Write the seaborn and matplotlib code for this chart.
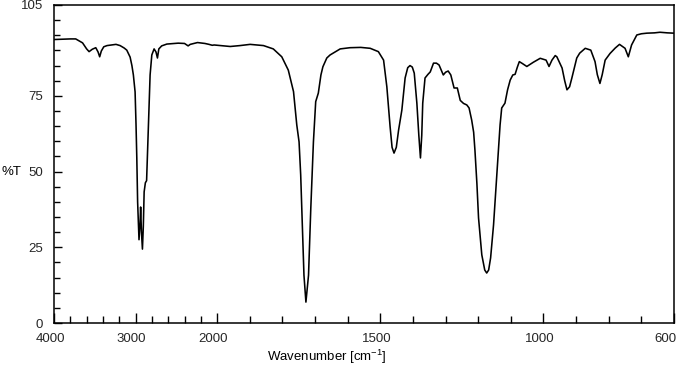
import numpy as np
import pandas as pd
import matplotlib
matplotlib.use("Agg")
import matplotlib.pyplot as plt
import matplotlib.transforms as mtransforms
from matplotlib.ticker import FixedLocator
import seaborn as sns

# --- data ---
wavenumber = [4000, 3900, 3800, 3734, 3650, 3600, 3570, 3530, 3488, 3460, 3440, 3420,
              3390, 3350, 3240, 3190, 3140, 3108, 3067, 3045, 3027, 3006, 2995, 2985,
              2975, 2958, 2945, 2938, 2928, 2916, 2905, 2895, 2880, 2865, 2855, 2843,
              2822, 2801, 2773, 2750, 2732, 2715, 2680, 2617, 2478, 2400, 2356, 2330,
              2241, 2150, 2100, 2060, 2037, 2000, 1989, 1960, 1930, 1899, 1858, 1828,
              1802, 1782, 1766, 1756, 1749, 1744, 1739, 1734, 1728, 1720, 1713, 1705,
              1698, 1690, 1682, 1676, 1664, 1654, 1623, 1593, 1560, 1531, 1506, 1490,
              1480, 1470, 1464, 1458, 1451, 1444, 1434, 1424, 1416, 1409, 1402, 1396,
              1388, 1382, 1377, 1373, 1370, 1363, 1354, 1347, 1337, 1328, 1320, 1307,
              1300, 1292, 1284, 1274, 1264, 1255, 1245, 1235, 1228, 1220, 1214, 1210,
              1204, 1199, 1189, 1180, 1174, 1168, 1162, 1153, 1143, 1133, 1128, 1118,
              1110, 1102, 1094, 1087, 1080, 1074, 1065, 1051, 1031, 1010, 992, 983,
              974, 964, 959, 943, 935, 928, 920, 913, 898, 889, 872, 855, 842, 835,
              827, 820, 811, 796, 780, 767, 750, 740, 730, 714, 700, 683, 660, 643,
              620, 600]
transmittance = [93.6, 93.7, 93.8, 93.8, 92.5, 90.5, 89.6, 90.4, 90.9, 89.5, 87.9, 89.8,
                 91.2, 91.6, 92.0, 91.6, 90.8, 90.1, 87.8, 85.0, 81.9, 76.3, 66.0, 54.5,
                 40.0, 27.5, 33.0, 38.3, 30.0, 24.4, 32.0, 43.3, 46.3, 47.0, 55.0, 65.4,
                 81.9, 88.5, 90.5, 89.5, 87.5, 90.5, 91.5, 92.1, 92.4, 92.3, 91.5, 92.0,
                 92.6, 92.3, 92.0, 91.7, 91.8, 91.7, 91.6, 91.3, 91.6, 92.0, 91.6, 90.5,
                 87.9, 83.5, 76.4, 65.4, 59.8, 48.9, 32.4, 15.8, 6.9, 15.8, 38.0, 59.8,
                 73.1, 75.9, 81.9, 84.6, 87.5, 88.5, 90.5, 90.9, 91.0, 90.7, 89.6, 86.8,
                 78.0, 64.8, 58.0, 56.1, 58.0, 63.7, 70.3, 80.9, 84.3, 85.0, 84.5, 82.5,
                 72.6, 62.0, 54.5, 62.0, 72.6, 80.9, 82.1, 82.9, 85.8, 85.8, 85.2, 81.9,
                 82.8, 83.2, 81.9, 77.6, 77.6, 73.5, 72.5, 72.0, 71.0, 67.0, 63.0, 57.0,
                 46.0, 34.7, 22.5, 17.5, 16.5, 17.5, 21.5, 32.4, 48.9, 65.4, 71.0, 72.6,
                 77.0, 80.2, 81.9, 82.1, 84.5, 86.3, 85.7, 84.7, 86.1, 87.4, 86.8, 84.7,
                 86.8, 88.3, 87.9, 84.2, 80.0, 77.0, 78.0, 80.9, 87.5, 89.1, 90.7, 90.1,
                 86.3, 82.0, 79.1, 82.0, 86.8, 89.0, 90.8, 92.0, 90.7, 87.9, 91.8, 95.1,
                 95.5, 95.7, 95.8, 96.0, 95.8, 95.7]

x_tick_values = [4000, 3000, 2000, 1500, 1000, 600]
x_tick_labels = ["4000", "3000", "2000", "1500", "1000", "600"]
x_minor_values = [3800, 3600, 3400, 3200, 2800, 2600, 2400, 2200,
                  1900, 1800, 1700, 1600, 1400, 1300, 1200, 1100, 900, 800, 700]
y_tick_values = [0, 25, 50, 75, 105]
y_tick_labels = ["0", "25", "50", "75", "105"]
y_minor_values = [5, 10, 15, 20, 30, 35, 40, 45, 55, 60, 65, 70, 80, 85, 90, 95, 100]

df = pd.DataFrame({"wavenumber": wavenumber, "T": transmittance})

sns.set_theme(style="white")
plt.rcParams["font.family"] = ["Liberation Sans", "DejaVu Sans"]
plt.rcParams["mathtext.fontset"] = "custom"
plt.rcParams["mathtext.rm"] = "Liberation Sans"
plt.rcParams["mathtext.it"] = "Liberation Sans:italic"

FS = 9.5

fig = plt.figure(figsize=(6.83, 3.75), dpi=100)
ax = fig.add_axes([54 / 683, 1 - 323 / 375, 620 / 683, 318 / 375])

sns.lineplot(data=df, x="wavenumber", y="T", color="black", linewidth=1.15,
             estimator=None, sort=False, ax=ax)


def fwd(x):
    x = np.asarray(x, dtype=float)
    return np.where(x > 2000, 2000 + (x - 2000) / 4.0, x)


def inv(y):
    y = np.asarray(y, dtype=float)
    return np.where(y > 2000, 2000 + (y - 2000) * 4.0, y)


ax.set_xscale("function", functions=(fwd, inv))
ax.set_xlim(4000, 600)
ax.set_ylim(0, 105)

ax.xaxis.set_major_locator(FixedLocator(x_tick_values))
ax.set_xticklabels(x_tick_labels)
ax.xaxis.set_minor_locator(FixedLocator(x_minor_values))
ax.yaxis.set_major_locator(FixedLocator(y_tick_values))
ax.set_yticklabels(y_tick_labels)
ax.yaxis.set_minor_locator(FixedLocator(y_minor_values))

ax.tick_params(axis="x", which="major", direction="in", length=7, width=1,
               color="black", labelsize=FS, pad=7, bottom=True, top=False)
ax.tick_params(axis="x", which="minor", direction="in", length=4.8, width=1,
               color="black", bottom=True, top=False)
ax.tick_params(axis="y", which="major", direction="in", length=5.5, width=1,
               color="black", labelsize=FS, pad=8, left=True, right=False)
ax.tick_params(axis="y", which="minor", direction="in", length=4, width=1,
               color="black", left=True, right=False)

# small horizontal offsets of x tick labels as in the reference
for lab in ax.get_xticklabels():
    dx = -4 / 100
    if lab.get_text() == "600":
        dx = -9 / 100
    lab.set_transform(lab.get_transform() +
                      mtransforms.ScaledTranslation(dx, 0, fig.dpi_scale_trans))

for s in ax.spines.values():
    s.set_visible(True)
    s.set_color("black")
    s.set_linewidth(1.1)

ax.set_xlabel("Wavenumber [cm$^{-1}$]", fontsize=FS, color="black",
              ha="right", va="center")
ax.xaxis.set_label_coords((387 - 54) / 620, -(357 - 323) / 318)
ax.set_ylabel("%T", fontsize=FS, color="black", rotation=0, ha="left", va="center")
ax.yaxis.set_label_coords(-0.085, 50 / 105)
ax.grid(False)

fig.savefig("out.png", dpi=100)
